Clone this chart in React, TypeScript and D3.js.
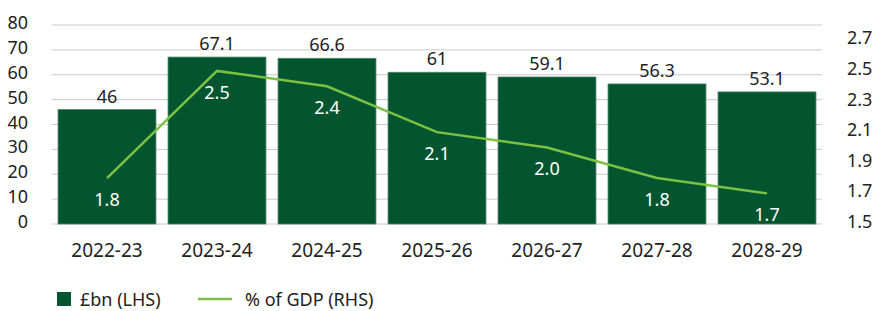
import React from 'react';
import * as d3 from 'd3';

const years = ['2022-23', '2023-24', '2024-25', '2025-26', '2026-27', '2027-28', '2028-29'];
const billions = [46, 67.1, 66.6, 61, 59.1, 56.3, 53.1];
const gdpShare = [1.8, 2.5, 2.4, 2.1, 2.0, 1.8, 1.7];
const leftTicks = [0, 10, 20, 30, 40, 50, 60, 70, 80];
const rightTicks = [1.5, 1.7, 1.9, 2.1, 2.3, 2.5, 2.7];

const barColor = '#03552f';
const lineColor = '#7bc143';
const textColor = '#222';
const font = "'Noto Sans', sans-serif";

const App: React.FC = () => {
  const width = 873;
  const height = 311;
  const left = 52;
  const right = 822;
  const top = 25;
  const bottom = 224;

  const x = d3.scaleBand().domain(years).range([left, right]).paddingInner(0.11).paddingOuter(0.055);
  const y = d3.scaleLinear().domain([0, 80]).range([bottom, top]);
  const y2 = d3.scaleLinear().domain([1.5, 2.8]).range([bottom, top]);

  const cx = (d: string) => x(d)! + x.bandwidth() / 2;

  const line = d3.line<number>()
    .x((_, i) => cx(years[i]))
    .y(d => y2(d));

  return (
    <svg width={width} height={height} style={{ position: 'absolute', left: 0, top: 0 }} fontFamily={font}>
      {leftTicks.map(t => (
        <g key={t}>
          <line x1={left} x2={right} y1={y(t)} y2={y(t)} stroke="#c9c9c9" strokeWidth={1} />
          <text x={28} y={y(t) - 3} textAnchor="end" dominantBaseline="central" fontSize={18} fill={textColor}>{t}</text>
        </g>
      ))}
      {rightTicks.map(t => (
        <text key={t} x={847} y={y2(t) - 3} dominantBaseline="central" fontSize={18} fill={textColor}>{t.toFixed(1)}</text>
      ))}
      {years.map((yr, i) => (
        <g key={yr}>
          <rect x={x(yr)} y={y(billions[i])} width={x.bandwidth()} height={bottom - y(billions[i])}
            fill={barColor} stroke="#4d8066" strokeWidth={0.8} />
          <text x={cx(yr)} y={y(billions[i]) - 14} textAnchor="middle" dominantBaseline="central" fontSize={18} fill={textColor}>{billions[i]}</text>
          <text x={cx(yr)} y={250} textAnchor="middle" dominantBaseline="central" fontSize={19} fill={textColor}>{yr}</text>
        </g>
      ))}
      <path d={line(gdpShare)!} fill="none" stroke={lineColor} strokeWidth={2.5} />
      {years.map((yr, i) => (
        <text key={'l' + yr} x={cx(yr)} y={y2(gdpShare[i]) + 21} textAnchor="middle" dominantBaseline="central" fontSize={18} fill="#fff">{gdpShare[i].toFixed(1)}</text>
      ))}
      <rect x={57} y={292} width={14} height={14} fill={barColor} />
      <text x={80} y={299} dominantBaseline="central" fontSize={18} fill={textColor}>£bn (LHS)</text>
      <line x1={198} x2={232} y1={299} y2={299} stroke={lineColor} strokeWidth={2.5} />
      <text x={245} y={299} dominantBaseline="central" fontSize={18} fill={textColor}>% of GDP (RHS)</text>
    </svg>
  );
};

export default App;
